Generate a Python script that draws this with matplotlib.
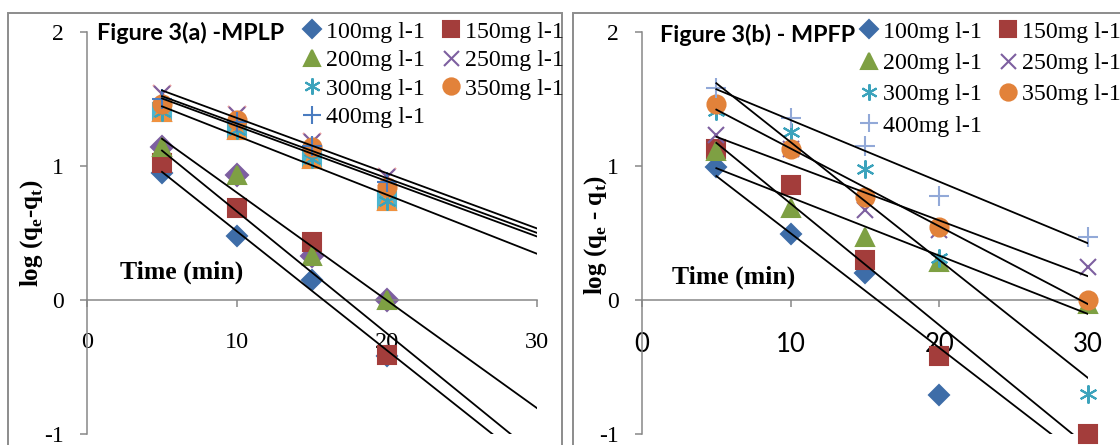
import numpy as np
import matplotlib
matplotlib.use('Agg')
import matplotlib.pyplot as plt
from matplotlib.patches import Rectangle

plt.rcParams['mathtext.fontset'] = 'custom'
plt.rcParams['mathtext.rm'] = 'Liberation Serif:bold'
plt.rcParams['mathtext.bf'] = 'Liberation Serif:bold'
plt.rcParams['axes.unicode_minus'] = False

# Figure 3(a) - MPLP : log(qe-qt) vs time
t_a = [5, 10, 15, 20]
a100 = [0.95, 0.48, 0.15, -0.42]
a150 = [1.02, 0.69, 0.43, -0.41]
a200 = [1.14, 0.93, 0.33, 0.00]
a250 = [1.54, 1.38, 1.18, 0.92]
a300 = [1.40, 1.27, 1.05, 0.74]
a350 = [1.46, 1.34, 1.14, 0.84]
a400 = [1.50, 1.33, 1.15, 0.88]

# Figure 3(b) - MPFP
t_b = [5, 10, 15, 20, 30]
b100 = [0.995, 0.49, 0.20, -0.71, -1.05]
b150 = [1.13, 0.86, 0.30, -0.415, -1.0]
b200 = [1.11, 0.69, 0.47, 0.285, -0.03]
b250 = [1.23, 1.13, 0.67, 0.52, 0.25]
b300 = [1.41, 1.25, 0.98, 0.31, -0.70]
b350 = [1.465, 1.13, 0.77, 0.545, 0.0]
b400 = [1.58, 1.36, 1.15, 0.775, 0.47]

labels = ['100mg l-1', '150mg l-1', '200mg l-1', '250mg l-1',
          '300mg l-1', '350mg l-1', '400mg l-1']
markers = ['D', 's', '^', 'x', (6, 2, 0), 'o', '+']
sizes = [10, 12.5, 13, 12, 13, 13, 14]
colors = ['#3E6DA8', '#A33D3B', '#7EA043', '#7D5FA0', '#3CA3BC', '#E2823A', '#4A7CC0']

GRAY = '#878787'
YMIN, YMAX = -1, 2

fig = plt.figure(figsize=(11.2, 4.45), dpi=100)

# panel frames
fig.add_artist(Rectangle((8 / 1120, -0.1), 554 / 1120, 1.0708, transform=fig.transFigure,
                         fill=False, ec='#8c8c8c', lw=1.4))
fig.add_artist(Rectangle((573 / 1120, -0.1), 0.6, 1.0708, transform=fig.transFigure,
                         fill=False, ec='#8c8c8c', lw=1.4))


def style_axes(ax, xfont, xsize):
    ax.set_xlim(0, 30)
    ax.set_ylim(YMIN, YMAX)
    ax.spines['top'].set_visible(False)
    ax.spines['right'].set_visible(False)
    ax.spines['bottom'].set_position(('data', 0))
    for s in ['left', 'bottom']:
        ax.spines[s].set_color(GRAY)
        ax.spines[s].set_linewidth(1.1)
    ax.set_xticks([0, 10, 20, 30])
    ax.set_yticks([-1, 0, 1, 2])
    ax.tick_params(axis='both', direction='out', length=5, width=1.1, color=GRAY)
    ax.tick_params(axis='x', pad=18)
    ax.tick_params(axis='y', pad=12)
    for lab in ax.get_yticklabels():
        lab.set_fontfamily('Liberation Serif')
        lab.set_fontsize(17)
    for lab in ax.get_xticklabels():
        lab.set_fontfamily(xfont)
        lab.set_fontsize(xsize)
    ax.patch.set_alpha(0)


def draw_panel(ax, t, series, extras, plus_color):
    t = np.array(t, dtype=float)
    # hidden duplicate markers sitting under the main ones
    for y, m, c, ms in extras:
        y = np.array(y, dtype=float)
        ok = y >= YMIN - 0.01
        ax.plot(t[ok], y[ok], linestyle='none', marker=m, color=c, ms=ms,
                mew=1.5, clip_on=False, zorder=2)
    handles = []
    for i, y in enumerate(series):
        y = np.array(y, dtype=float)
        c = plus_color if i == 6 else colors[i]
        ok = y >= YMIN - 0.01
        h, = ax.plot(t[ok], y[ok], linestyle='none', marker=markers[i], color=c,
                     ms=sizes[i], mew=1.5, clip_on=False, zorder=3, label=labels[i])
        handles.append(h)
    # linear trendlines (Excel style, from x=5 to x=30)
    xx = np.array([5, 30])
    for y in series:
        k, b = np.polyfit(t, np.array(y, dtype=float), 1)
        ax.plot(xx, k * xx + b, color='black', lw=1.3, zorder=4)
    return handles


ax1 = fig.add_axes([87 / 1120, 0.0247, 450 / 1120, 0.9034])
extras_a = [(a200, 'D', '#7D5FA0', 11),
            (a250, 'x', '#E8A0A0', 13),
            (a300, 's', '#4BB5D0', 12.5),
            (a300, '^', '#F0913F', 13)]
h1 = draw_panel(ax1, t_a, [a100, a150, a200, a250, a300, a350, a400], extras_a, '#4A7CC0')
style_axes(ax1, 'Liberation Serif', 17.5)

ax2 = fig.add_axes([642 / 1120, 0.0247, 446 / 1120, 0.9034])
h2 = draw_panel(ax2, t_b, [b100, b150, b200, b250, b300, b350, b400], [], '#92A9D8')
style_axes(ax2, 'Lato', 18.5)

order = [0, 2, 4, 6, 1, 3, 5]
for h, pos, sp in [(h1, (303 / 1120, 1 - 21 / 445), 0.28), (h2, (860 / 1120, 1 - 21 / 445), 0.4)]:
    fig.legend([h[i] for i in order], [labels[i] for i in order], ncol=2,
               loc='upper left', bbox_to_anchor=pos, frameon=False,
               prop={'family': 'Liberation Serif', 'size': 17.2},
               handlelength=0.75, handletextpad=0.2, columnspacing=0.75,
               labelspacing=sp, borderpad=0, borderaxespad=0, markerscale=0.9)

# titles and axis captions
fig.text(97 / 1120, 1 - 33 / 445, 'Figure 3(a) -MPLP', fontfamily='Lato',
         fontweight='bold', fontsize=16.8, va='center', ha='left')
fig.text(660 / 1120, 1 - 35 / 445, 'Figure 3(b) - MPFP', fontfamily='Lato',
         fontweight='bold', fontsize=16.8, va='center', ha='left')
fig.text(120 / 1120, 1 - 272 / 445, 'Time (min)', fontfamily='Liberation Serif',
         fontweight='bold', fontsize=18.5, va='center', ha='left')
fig.text(672 / 1120, 1 - 277 / 445, 'Time (min)', fontfamily='Liberation Serif',
         fontweight='bold', fontsize=18.5, va='center', ha='left')
fig.text(32 / 1120, 1 - 233 / 445, r'log (q$_\mathbf{e}$-q$_\mathbf{t}$)',
         fontfamily='Liberation Serif', fontweight='bold', fontsize=18,
         rotation=90, va='center', ha='center')
fig.text(596 / 1120, 1 - 235 / 445, r'log (q$_\mathbf{e}$ - q$_\mathbf{t}$)',
         fontfamily='Liberation Serif', fontweight='bold', fontsize=18,
         rotation=90, va='center', ha='center')

fig.savefig('out.png', dpi=100)
